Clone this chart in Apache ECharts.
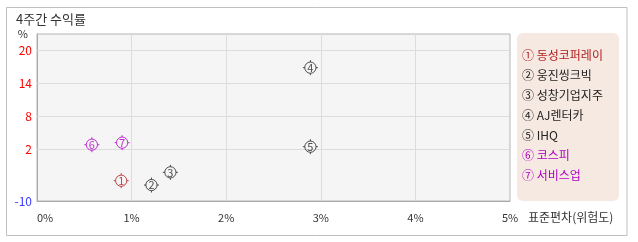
<!DOCTYPE html>
<html>
<head>
<meta charset="utf-8">
<script src="https://cdn.jsdelivr.net/npm/echarts@6/dist/echarts.min.js"></script>
<style>
html,body{margin:0;padding:0;background:#fff;}
#c{width:638px;height:242px;}
</style>
</head>
<body>
<div id="c"></div>
<script>
// Data
var names = ['동성코퍼레이', '웅진씽크빅', '성창기업지주', 'AJ렌터카', 'IHQ', '코스피', '서비스업'];
var marks = ['①', '②', '③', '④', '⑤', '⑥', '⑦'];
var digits = ['1', '2', '3', '4', '5', '6', '7'];
var stdDev = [0.89, 1.21, 1.41, 2.89, 2.89, 0.58, 0.90];      // 표준편차 (%)
var returns4w = [-3.76, -4.55, -2.24, 16.78, 2.42, 2.78, 3.15]; // 4주간 수익률 (%)
var colors = ['#b01c1c', '#222222', '#222222', '#222222', '#222222', '#b000c4', '#b000c4'];
var xTicks = [0, 1, 2, 3, 4, 5];
var yTickValues = [2, 8, 14, 20];
var yMin = -7.45, yMax = 22.9;
var yMinLabel = '-10';

var FONT = '"Noto Sans CJK KR", "Noto Sans", sans-serif';
var markerPath = 'path://M14,8 C14,11.314 11.314,14 8,14 C4.686,14 2,11.314 2,8 C2,4.686 4.686,2 8,2 C11.314,2 14,4.686 14,8 Z ' +
  'M8,0 L8,2 M8,14 L8,16 M0,8 L2,8 M14,8 L16,8';

var gridSeries = {
  type: 'scatter',
  data: [],
  silent: true,
  z: 1,
  markLine: {
    silent: true,
    symbol: 'none',
    label: {show: false},
    lineStyle: {color: '#dcdcdc', type: 'solid', width: 1},
    animation: false,
    data: yTickValues.map(function (v) { return {yAxis: v}; })
      .concat(xTicks.slice(1, -1).map(function (v) { return {xAxis: v}; }))
  }
};

var series = [gridSeries];
names.forEach(function (n, i) {
  series.push({
    type: 'scatter',
    name: n,
    z: 5,
    symbol: markerPath,
    symbolSize: 15,
    symbolKeepAspect: true,
    itemStyle: {color: 'rgba(0,0,0,0)', borderColor: colors[i], borderWidth: 1},
    label: {
      show: true,
      position: 'inside',
      formatter: digits[i],
      color: colors[i],
      fontSize: 11,
      fontFamily: FONT
    },
    data: [[stdDev[i], returns4w[i]]]
  });
});

var chart = echarts.init(document.getElementById('c'));
chart.setOption({
  animation: false,
  textStyle: {fontFamily: FONT},
  graphic: [
    {type: 'rect', z: -10, shape: {x: 6.5, y: 7.5, width: 620.5, height: 228},
      style: {fill: '#fff', stroke: '#c0c0c0', lineWidth: 1}},
    {type: 'rect', z: -5, shape: {x: 517, y: 33, width: 102, height: 168, r: 6},
      style: {fill: '#f6e9e2'}}
  ],
  title: {
    text: '4주간 수익률',
    left: 16, top: 13, padding: 0,
    textStyle: {fontSize: 13, fontWeight: 'normal', color: '#333', fontFamily: FONT}
  },
  legend: {
    orient: 'vertical',
    left: 517, top: 48, padding: 0,
    icon: 'none', itemWidth: 0, itemHeight: 14, itemGap: 7,
    selectedMode: false,
    data: names.map(function (n, i) {
      return {name: n, textStyle: {color: colors[i]}};
    }),
    formatter: function (n) { return marks[names.indexOf(n)] + ' ' + n; },
    textStyle: {fontSize: 12, fontFamily: FONT}
  },
  grid: {
    left: 37, top: 34, width: 473, height: 167,
    show: true, backgroundColor: '#f5f5f5', borderColor: '#b4b4b4', borderWidth: 1
  },
  xAxis: {
    type: 'value', min: 0, max: 5, interval: 1,
    name: '표준편차(위험도)', nameLocation: 'end', nameGap: 18,
    nameTextStyle: {fontSize: 12, color: '#333', verticalAlign: 'top', padding: [10, 0, 0, 0], fontFamily: FONT},
    axisLine: {show: true, onZero: false, lineStyle: {color: '#aaaaaa'}},
    axisTick: {show: false},
    splitLine: {show: false},
    axisLabel: {
      formatter: '{value}%', color: '#333', fontSize: 11, margin: 11,
      alignMinLabel: 'left', fontFamily: FONT
    }
  },
  yAxis: {
    type: 'value', min: yMin, max: yMax,
    name: '%', nameLocation: 'end', nameGap: 0,
    nameTextStyle: {fontSize: 11, color: '#333', align: 'right', verticalAlign: 'middle', padding: [0, 9, 0, 0]},
    axisLine: {show: true, onZero: false, lineStyle: {color: '#aaaaaa'}},
    axisTick: {show: false},
    splitLine: {show: false},
    axisLabel: {
      customValues: [yMin].concat(yTickValues),
      showMinLabel: true, showMaxLabel: true,
      margin: 5, fontSize: 12, fontFamily: FONT,
      formatter: function (v) { return v < yTickValues[0] - 6 ? yMinLabel : String(v); },
      color: function (v) { return v < yTickValues[0] - 6 ? '#3b3bff' : '#ff0000'; }
    }
  },
  series: series
});
</script>
</body>
</html>
